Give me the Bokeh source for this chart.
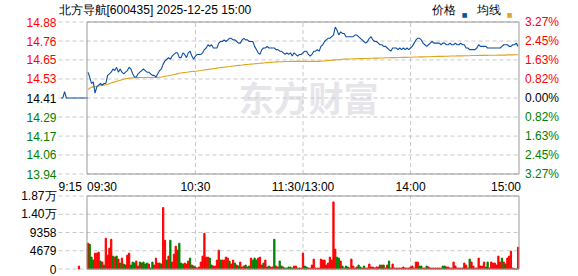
from bokeh.plotting import figure
from bokeh.models import Range1d, Label, BoxAnnotation
from bokeh.embed import file_html
from bokeh.resources import INLINE

# ---------------- data ----------------
prev_close = 14.41
title_text = "北方导航[600435] 2025-12-25 15:00"

price_grid = [14.881, 14.763, 14.646, 14.528, 14.410, 14.292, 14.174, 14.057, 13.939]
price_labels = ["14.88", "14.76", "14.65", "14.53", "14.41", "14.29", "14.17", "14.06", "13.94"]
pct_labels = ["3.27%", "2.45%", "1.63%", "0.82%", "0.00%", "0.82%", "1.63%", "2.45%", "3.27%"]

vol_grid = [0, 4679, 9358, 14037, 18716]
vol_labels = ["0", "4679", "9358", "1.40万", "1.87万"]

time_ticks = [-15, 0, 60, 120, 180, 240]
time_labels = ["9:15", "09:30", "10:30", "11:30/13:00", "14:00", "15:00"]

# pre-market (minutes relative to 09:30)
pre_minutes = [-15, -14, -13, -12, -11, -10, -9, -8, -7, -6, -5, -4, -3, -2, -1, 0]
pre_price = [14.41, 14.41, 14.45, 14.41, 14.41, 14.41, 14.41, 14.41,
             14.41, 14.41, 14.41, 14.41, 14.41, 14.41, 14.41, 14.41]
pre_vol_minutes = [-5]
pre_vol = [762]
pre_vol_dir = ["r"]

# trading minutes 0..240 (09:30 .. 11:30 | 13:00 .. 15:00)
minutes = list(range(241))
price = [
    14.57, 14.54, 14.50, 14.51, 14.44, 14.48, 14.49, 14.50, 14.49, 14.50,
    14.50, 14.55, 14.56, 14.57, 14.59, 14.58, 14.60, 14.57, 14.59, 14.57,
    14.56, 14.57, 14.58, 14.60, 14.59, 14.56, 14.54, 14.54, 14.56, 14.57,
    14.58, 14.59, 14.58, 14.57, 14.57, 14.56, 14.55, 14.55, 14.54, 14.56,
    14.58, 14.59, 14.62, 14.64, 14.65, 14.66, 14.65, 14.67, 14.68, 14.69,
    14.69, 14.66, 14.66, 14.69, 14.68, 14.66, 14.69, 14.70, 14.67, 14.65,
    14.67, 14.68, 14.68, 14.68, 14.69, 14.71, 14.72, 14.74, 14.73, 14.74,
    14.72, 14.72, 14.72, 14.75, 14.76, 14.76, 14.77, 14.76, 14.77, 14.78,
    14.78, 14.77, 14.77, 14.76, 14.75, 14.75, 14.77, 14.78, 14.77, 14.77,
    14.76, 14.76, 14.76, 14.73, 14.71, 14.69, 14.68, 14.71, 14.72, 14.72,
    14.73, 14.72, 14.72, 14.72, 14.72, 14.71, 14.71, 14.70, 14.70, 14.69,
    14.68, 14.69, 14.68, 14.69, 14.67, 14.69, 14.68, 14.67, 14.68, 14.68,
    14.69, 14.70, 14.70, 14.68, 14.67, 14.68, 14.70, 14.70, 14.71, 14.70,
    14.73, 14.74, 14.76, 14.77, 14.78, 14.78, 14.79, 14.80, 14.85, 14.83,
    14.80, 14.82, 14.81, 14.81, 14.79, 14.79, 14.79, 14.79, 14.79, 14.80,
    14.80, 14.79, 14.78, 14.77, 14.76, 14.75, 14.76, 14.78, 14.79, 14.77,
    14.76, 14.76, 14.75, 14.74, 14.74, 14.73, 14.73, 14.72, 14.71, 14.70,
    14.72, 14.72, 14.72, 14.71, 14.72, 14.71, 14.72, 14.71, 14.72, 14.71,
    14.72, 14.73, 14.75, 14.77, 14.78, 14.78, 14.77, 14.75, 14.74, 14.73,
    14.74, 14.75, 14.76, 14.75, 14.75, 14.75, 14.75, 14.74, 14.75, 14.75,
    14.74, 14.74, 14.75, 14.74, 14.74, 14.75, 14.74, 14.74, 14.75, 14.74,
    14.74, 14.72, 14.72, 14.71, 14.71, 14.71, 14.71, 14.72, 14.74, 14.73,
    14.73, 14.73, 14.73, 14.72, 14.72, 14.72, 14.72, 14.72, 14.72, 14.72,
    14.72, 14.73, 14.74, 14.74, 14.74, 14.73, 14.73, 14.74, 14.74, 14.75,
    14.73,
]
avg_price = [
    14.462, 14.470, 14.476, 14.479, 14.480, 14.482, 14.484, 14.486, 14.488, 14.490,
    14.492, 14.495, 14.499, 14.503, 14.507, 14.510, 14.514, 14.517, 14.520, 14.523,
    14.526, 14.529, 14.531, 14.533, 14.534, 14.535, 14.536, 14.536, 14.536, 14.537,
    14.537, 14.537, 14.537, 14.537, 14.537, 14.537, 14.537, 14.538, 14.538, 14.538,
    14.539, 14.540, 14.542, 14.544, 14.546, 14.548, 14.551, 14.553, 14.556, 14.558,
    14.561, 14.563, 14.565, 14.567, 14.568, 14.570, 14.571, 14.573, 14.574, 14.575,
    14.576, 14.577, 14.579, 14.580, 14.582, 14.584, 14.586, 14.587, 14.589, 14.590,
    14.592, 14.593, 14.595, 14.597, 14.598, 14.600, 14.601, 14.603, 14.604, 14.605,
    14.607, 14.608, 14.609, 14.611, 14.612, 14.613, 14.614, 14.616, 14.617, 14.618,
    14.619, 14.620, 14.621, 14.622, 14.623, 14.624, 14.625, 14.626, 14.627, 14.628,
    14.629, 14.630, 14.631, 14.632, 14.633, 14.634, 14.634, 14.635, 14.635, 14.635,
    14.636, 14.636, 14.636, 14.636, 14.636, 14.637, 14.637, 14.637, 14.637, 14.637,
    14.637, 14.637, 14.637, 14.637, 14.637, 14.637, 14.637, 14.637, 14.637, 14.637,
    14.638, 14.639, 14.640, 14.641, 14.642, 14.643, 14.644, 14.645, 14.646, 14.647,
    14.648, 14.649, 14.650, 14.651, 14.651, 14.652, 14.652, 14.652, 14.653, 14.653,
    14.653, 14.654, 14.654, 14.654, 14.655, 14.655, 14.655, 14.656, 14.656, 14.656,
    14.657, 14.657, 14.657, 14.658, 14.658, 14.658, 14.659, 14.659, 14.659, 14.660,
    14.660, 14.660, 14.661, 14.661, 14.661, 14.662, 14.662, 14.662, 14.662, 14.663,
    14.663, 14.663, 14.664, 14.664, 14.664, 14.665, 14.665, 14.665, 14.665, 14.666,
    14.666, 14.666, 14.667, 14.667, 14.667, 14.668, 14.668, 14.668, 14.668, 14.669,
    14.669, 14.669, 14.670, 14.670, 14.670, 14.670, 14.671, 14.671, 14.671, 14.671,
    14.672, 14.672, 14.672, 14.672, 14.673, 14.673, 14.673, 14.673, 14.673, 14.674,
    14.674, 14.674, 14.674, 14.674, 14.675, 14.675, 14.675, 14.675, 14.675, 14.676,
    14.676, 14.676, 14.676, 14.676, 14.677, 14.677, 14.677, 14.677, 14.678, 14.678,
    14.678,
]
volume = [
    6607, 6352, 3049, 2287, 4066, 4066, 4320, 2033, 1779, 1016,
    7877, 3557, 5336, 7623, 3303, 3049, 3303, 2541, 1525, 2795,
    1270, 1016, 3557, 4066, 1016, 1779, 1525, 2033, 762, 1779,
    1525, 1779, 1270, 1525, 1270, 254, 1779, 1016, 2795, 1525,
    1525, 1270, 15754, 7369, 2287, 3303, 7369, 1779, 3811, 5844,
    4828, 6607, 1525, 1270, 1525, 1270, 2033, 2795, 1016, 762,
    508, 254, 508, 1779, 3303, 9148, 3049, 3049, 2795, 1016,
    762, 762, 2287, 4828, 2287, 2287, 2287, 3049, 2795, 2033,
    1270, 2287, 1525, 1016, 762, 1779, 508, 762, 1016, 508,
    762, 2795, 2287, 2795, 2287, 2795, 3049, 1016, 1525, 2287,
    508, 762, 508, 508, 7623, 762, 508, 2033, 762, 508,
    254, 254, 508, 508, 254, 762, 762, 254, 254, 254,
    4066, 762, 508, 254, 254, 1016, 2541, 254, 254, 254,
    2541, 2287, 2287, 1016, 1525, 3049, 2287, 17194, 5082, 3049,
    2795, 2033, 762, 254, 762, 508, 254, 2541, 762, 254,
    508, 1016, 508, 254, 762, 254, 254, 1270, 508, 508,
    254, 508, 508, 1016, 1016, 1016, 254, 1016, 2033, 254,
    1270, 254, 254, 254, 254, 254, 508, 254, 254, 254,
    508, 762, 254, 1779, 1779, 762, 762, 254, 254, 762,
    508, 254, 254, 254, 254, 254, 254, 254, 762, 762,
    508, 508, 254, 254, 1779, 762, 254, 254, 254, 254,
    1525, 1016, 254, 2541, 1779, 762, 254, 254, 2795, 762,
    762, 1779, 508, 1779, 254, 1779, 1525, 1525, 1016, 3303,
    1779, 2795, 1779, 1270, 2795, 3303, 4574, 254, 0, 0,
    5590,
]
vol_dir = list(
    "rgggrrrgrg" "rrrrgrgrgr" "ggrrgggrrg" "rgggrggrrr" "rgrrgrgrrr"
    "rgggrrrgrg" "rrrrrrrrgg" "rrrrgrrrrg" "rrgrgrrrgr" "grgggrrrgr"
    "rgrrgrrggr" "ggggg" "rrggr" "rggrrrrrrr" "rrrrrrrrrg" "grgrggrrrr"
    "rggrgrrrrr" "rrrgrgrrgr" "rrrrrrrrrr" "rrrrrggrrg" "rrrrrrrrgg"
    "rrrrrrrrrr" "rrrgrrrrrr" "rrggrrrrrr" "rgrgrrrrrg" "r" "g"
)

# ---------------- styles / layout ----------------
W, H = 578, 276
RED = "#ff0000"
GREEN = "#008000"
BLUE = "#0d4fa3"
ORANGE = "#e0a31c"
GRID = "#c8c8c8"
FRAME = "#999999"
LABEL_FONT = "Liberation Sans"

# pixel anchors of the panels (canvas coordinates, from top-left)
PX_SESSION_L, PX_SESSION_R, PX_PRE_L = 86.5, 518.5, 58.0
PY_PRICE_TOP, PY_PRICE_BOT = 21.5, 173.5
PY_VOL_TOP, PY_VOL_BOT = 195.5, 268.5

session_left, session_right = -0.5, 240.5
kx = (session_right - session_left) / (PX_SESSION_R - PX_SESSION_L)
x_start = session_left - PX_SESSION_L * kx
x_end = session_right + (W - PX_SESSION_R) * kx
pre_left = session_left - (PX_SESSION_L - PX_PRE_L) * kx

ky = (price_grid[0] - price_grid[-1]) / (PY_PRICE_BOT - PY_PRICE_TOP)
y_end = price_grid[0] + PY_PRICE_TOP * ky
y_start = price_grid[-1] - (H - PY_PRICE_BOT) * ky

kv = (vol_grid[-1] - vol_grid[0]) / (PY_VOL_BOT - PY_VOL_TOP)
v_end = vol_grid[-1] + PY_VOL_TOP * kv
v_start = vol_grid[0] - (H - PY_VOL_BOT) * kv

p = figure(width=W, height=H, x_range=Range1d(x_start, x_end), y_range=Range1d(y_start, y_end),
           output_backend="svg", toolbar_location=None,
           x_axis_location=None, y_axis_location=None,
           min_border=0, min_border_left=0, min_border_right=0,
           min_border_top=0, min_border_bottom=0)
p.extra_y_ranges = {"vol": Range1d(v_start, v_end)}
p.xgrid.visible = False
p.ygrid.visible = False
p.outline_line_color = None
p.background_fill_color = "white"
p.border_fill_color = "white"


def tick_color(v, ref):
    if abs(v - ref) < 1e-9:
        return "#000000"
    return RED if v > ref else GREEN


# watermark
p.add_layout(Label(x=pre_left, y=prev_close, x_offset=180, y_offset=2, text="东方财富",
                   text_font="Noto Sans CJK SC", text_font_style="bold", text_font_size="35px",
                   text_color="#e6e6ea", text_baseline="middle", text_align="left", level="image"))

# grids
vgrid = time_ticks[2:5]
p.segment(x0=[pre_left] * len(price_grid), x1=[session_right] * len(price_grid),
          y0=price_grid, y1=price_grid, line_color=GRID, line_dash="4 3", line_width=1)
p.segment(x0=vgrid, x1=vgrid, y0=[price_grid[-1]] * 3, y1=[price_grid[0]] * 3,
          line_color=GRID, line_dash="4 3", line_width=1)
p.segment(x0=[pre_left] * len(vol_grid), x1=[session_right] * len(vol_grid),
          y0=vol_grid, y1=vol_grid, line_color=GRID, line_dash="4 3", line_width=1,
          y_range_name="vol")
p.segment(x0=vgrid, x1=vgrid, y0=[vol_grid[0]] * 3, y1=[vol_grid[-1]] * 3,
          line_color=GRID, line_dash="4 3", line_width=1, y_range_name="vol")

# price + average
p.line(pre_minutes, pre_price, line_color=BLUE, line_width=1.1)
p.line(minutes, avg_price, line_color=ORANGE, line_width=1.1)
p.line(minutes, price, line_color=BLUE, line_width=1.1)

# volume bars
colmap = {"r": RED, "g": GREEN}
p.vbar(x=pre_vol_minutes, top=pre_vol, bottom=0, width=0.7,
       color=[colmap[d] for d in pre_vol_dir], y_range_name="vol")
p.vbar(x=minutes, top=volume, bottom=0, width=0.7,
       color=[colmap[d] for d in vol_dir], y_range_name="vol")

# session frames
p.quad(left=[session_left], right=[session_right], bottom=[price_grid[-1]], top=[price_grid[0]],
       fill_alpha=0, line_color=FRAME, line_width=1)
p.quad(left=[session_left], right=[session_right], bottom=[vol_grid[0]], top=[vol_grid[-1]],
       fill_alpha=0, line_color=FRAME, line_width=1, y_range_name="vol")

# price axis labels
for v, lab, pct in zip(price_grid, price_labels, pct_labels):
    c = tick_color(round(v, 2), prev_close)
    p.add_layout(Label(x=pre_left, y=v, x_offset=-2, text=lab, text_align="right",
                       text_baseline="middle", text_font=LABEL_FONT,
                       text_font_size="12px", text_color=c))
    p.add_layout(Label(x=session_right, y=v, x_offset=6, text=pct, text_align="left",
                       text_baseline="middle", text_font=LABEL_FONT,
                       text_font_size="12px", text_color=c))

# volume axis labels
for v, lab in zip(vol_grid, vol_labels):
    p.add_layout(Label(x=pre_left, y=v, x_offset=-2, text=lab, text_align="right",
                       text_baseline="middle", text_font=LABEL_FONT,
                       text_font_size="12px", text_color="#000000", y_range_name="vol"))

# time labels
aligns = ["left", "left", "center", "center", "center", "right"]
for t, lab, al in zip(time_ticks, time_labels, aligns):
    if t < 0:
        xpos = pre_left
    elif al == "right":
        xpos = session_right + 2 * kx
    elif al == "left":
        xpos = session_left
    else:
        xpos = t
    p.add_layout(Label(x=xpos, y=price_grid[-1], y_offset=-13, text=lab, text_align=al,
                       text_baseline="alphabetic", text_font=LABEL_FONT,
                       text_font_size="12px", text_color="#000000"))

# title
p.add_layout(Label(x=pre_left, y=price_grid[0], y_offset=12.5, text=title_text, text_align="left",
                   text_baseline="middle", text_font=LABEL_FONT, text_font_size="12px",
                   text_color="#000000"))

# legend
p.add_layout(Label(x=session_right, y=price_grid[0], x_offset=-87, y_offset=12, text="价格",
                   text_align="left", text_baseline="middle", text_font=LABEL_FONT,
                   text_font_size="12px", text_color="#000000"))
p.add_layout(Label(x=session_right, y=price_grid[0], x_offset=-54.5, y_offset=7.5, text="■",
                   text_align="center", text_baseline="middle", text_font="DejaVu Sans",
                   text_font_size="6px", text_color="#0a52a5"))
p.add_layout(Label(x=session_right, y=price_grid[0], x_offset=-42, y_offset=12, text="均线",
                   text_align="left", text_baseline="middle", text_font=LABEL_FONT,
                   text_font_size="12px", text_color="#000000"))
p.add_layout(Label(x=session_right, y=price_grid[0], x_offset=-9.5, y_offset=7.5, text="■",
                   text_align="center", text_baseline="middle", text_font="DejaVu Sans",
                   text_font_size="6px", text_color="#e0a52c"))

open("out.html", "w").write(file_html(p, INLINE))
